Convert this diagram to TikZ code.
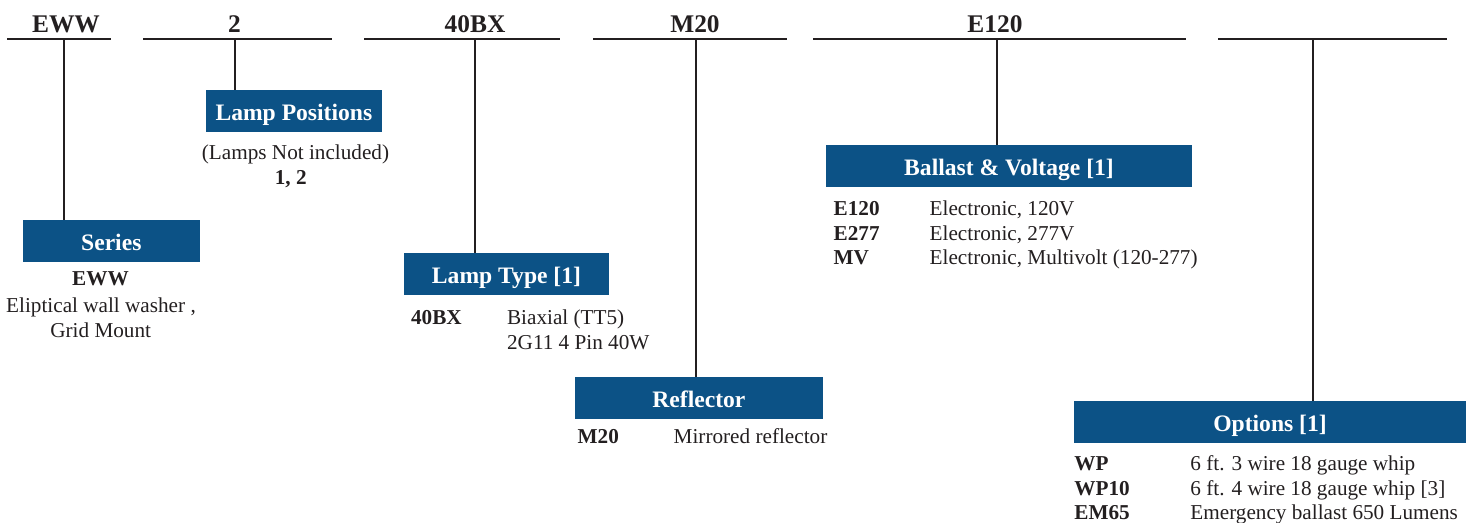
\documentclass[tikz,border=0pt]{standalone}
\usepackage{fontspec}
\setmainfont{Liberation Serif}
\definecolor{hdblue}{RGB}{12,82,134}
\definecolor{ink}{RGB}{35,31,32}

\tikzset{
  codebar/.style={draw=ink, line width=1.35pt},
  stem/.style={draw=ink, line width=1pt},
  codelbl/.style={anchor=base, inner sep=0pt, text=ink, font=\fontsize{12.7}{14}\selectfont\bfseries},
  hdbox/.style={fill=hdblue, text=white, inner sep=0pt, minimum height=20.85pt,
    text height=10.5pt, text depth=0.7pt, font=\fontsize{11.8}{14}\selectfont\bfseries},
  code/.style={anchor=base west, inner sep=0pt, text=ink, font=\fontsize{10.6}{12}\selectfont\bfseries},
  desc/.style={anchor=base west, inner sep=0pt, text=ink, font=\fontsize{10.6}{12}\selectfont},
  note/.style={anchor=base, inner sep=0pt, text=ink, font=\fontsize{10.6}{12}\selectfont},
}

\begin{document}
\begin{tikzpicture}[x=0.5pt, y=-0.5pt]
  \useasboundingbox (0,0) rectangle (1473,523);

  % code bars along the top
  \draw[codebar] (7.3,39) -- (110.7,39);
  \draw[codebar] (143.3,39) -- (331.7,39);
  \draw[codebar] (364,39) -- (560,39);
  \draw[codebar] (593,39) -- (787,39);
  \draw[codebar] (813,39) -- (1186,39);
  \draw[codebar] (1218,39) -- (1447,39);

  \node[codelbl] (cseries) at (66,32.5) {EWW};
  \node[codelbl] (cpos) at (234.5,32.5) {2};
  \node[codelbl] (ctype) at (475,32.5) {40BX};
  \node[codelbl] (crefl) at (695,32.5) {M20};
  \node[codelbl] (cballast) at (995,32.5) {E120};

  % header boxes
  \node[hdbox, minimum width=88.7pt] (series) at (111.3,240.9) {Series};
  \node[hdbox, minimum width=87.9pt] (lamppos) at (293.9,110.9) {Lamp Positions};
  \node[hdbox, minimum width=102.5pt] (lamptype) at (506.5,274.2) {Lamp Type [1]};
  \node[hdbox, minimum width=123.9pt] (refl) at (698.9,398) {Reflector};
  \node[hdbox, minimum width=183pt] (ballast) at (1009,165.9) {Ballast \& Voltage [1]};
  \node[hdbox, minimum width=196pt] (options) at (1270,421.9) {Options [1]};

  % stems from the bars to the boxes
  \coordinate (s1) at (64.3,39);
  \coordinate (s2) at (234.6,39);
  \coordinate (s3) at (474.5,39);
  \coordinate (s4) at (696,39);
  \coordinate (s5) at (997,39);
  \coordinate (s6) at (1313,39);
  \draw[stem] (s1) -- (s1 |- series.north);
  \draw[stem] (s2) -- (s2 |- lamppos.north);
  \draw[stem] (s3) -- (s3 |- lamptype.north);
  \draw[stem] (s4) -- (s4 |- refl.north);
  \draw[stem] (s5) -- (s5 |- ballast.north);
  \draw[stem] (s6) -- (s6 |- options.north);

  % series
  \node[note, font=\fontsize{10.6}{12}\selectfont\bfseries] (ser1) at (100.5,286) {EWW};
  \node[note] (ser2) at (101,312.7) {Eliptical wall washer ,};
  \node[note] (ser3) at (100.7,337.3) {Grid Mount};

  % lamp positions
  \node[note] (pos1) at (295.5,160) {(Lamps Not included)};
  \node[note, font=\fontsize{10.6}{12}\selectfont\bfseries] (pos2) at (290.7,185) {1, 2};

  % lamp type
  \node[code] (t1) at (410.7,325) {40BX};
  \node[desc] (t1d) at (506.7,325) {Biaxial (TT5)};
  \node[desc] (t2d) at (506.7,349.3) {2G11 4 Pin 40W};

  % reflector
  \node[code] (r1) at (577.3,443.3) {M20};
  \node[desc] (r1d) at (673.3,443.3) {Mirrored reflector};

  % ballast and voltage
  \node[code] (b1) at (833.3,216) {E120};
  \node[desc] (b1d) at (929.3,216) {Electronic, 120V};
  \node[code] (b2) at (833.3,240.2) {E277};
  \node[desc] (b2d) at (929.3,240.2) {Electronic, 277V};
  \node[code] (b3) at (833.3,264.4) {MV};
  \node[desc] (b3d) at (929.3,264.4) {Electronic, Multivolt (120-277)};

  % options
  \node[code] (o1) at (1074,470.7) {WP};
  \node[desc] (o1d) at (1190,470.7) {6 ft. 3 wire 18 gauge whip};
  \node[code] (o2) at (1074,495) {WP10};
  \node[desc] (o2d) at (1190,495) {6 ft. 4 wire 18 gauge whip [3]};
  \node[code] (o3) at (1074,519.3) {EM65};
  \node[desc] (o3d) at (1190,519.3) {Emergency ballast 650 Lumens};
\end{tikzpicture}
\end{document}
